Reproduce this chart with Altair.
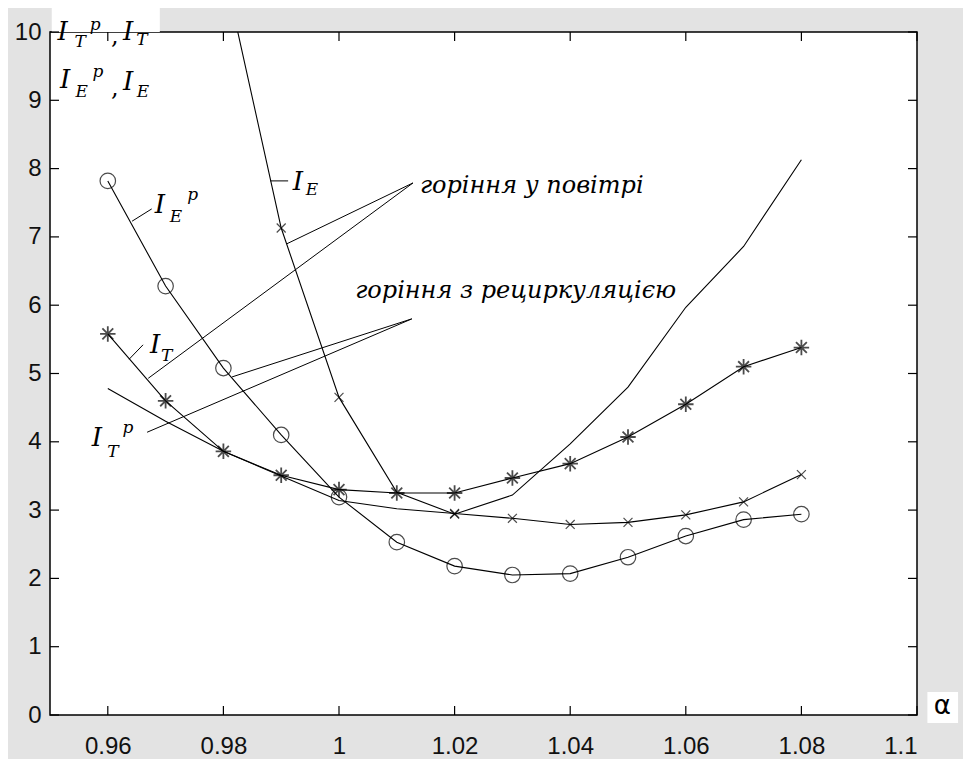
import altair as alt
import pandas as pd

# ---- data ----
alpha = [0.96, 0.97, 0.98, 0.99, 1.00, 1.01, 1.02, 1.03, 1.04, 1.05, 1.06, 1.07, 1.08]
ie_p = [7.82, 6.28, 5.08, 4.10, 3.19, 2.53, 2.18, 2.05, 2.07, 2.31, 2.62, 2.86, 2.94]
it = [5.58, 4.60, 3.86, 3.51, 3.30, 3.25, 3.25, 3.47, 3.68, 4.07, 4.55, 5.10, 5.38]
it_p = [4.78, 4.30, 3.86, 3.50, 3.14, 3.02, 2.95, 2.88, 2.79, 2.82, 2.93, 3.12, 3.52]
ie = [None, None, 10.95, 7.13, 4.65, 3.26, 2.94, 3.22, 3.97, 4.80, 5.97, 6.86, 8.13]

ie_marked = [0.99, 1.00, 1.02]
it_p_marked = [1.02, 1.03, 1.04, 1.05, 1.06, 1.07, 1.08]

x_ticks = [0.96, 0.98, 1.00, 1.02, 1.04, 1.06, 1.08, 1.10]
y_ticks = [0, 1, 2, 3, 4, 5, 6, 7, 8, 9, 10]

# annotation texts
note_air = "горіння у повітрі"
note_rec = "горіння з рециркуляцією"

W, H = 867, 683
TICK = 9

X = alt.X("x:Q", scale=alt.Scale(domain=[0.95, 1.1], nice=False, zero=False),
          axis=alt.Axis(values=x_ticks, format=".2~f"), title=None)
Y = alt.Y("y:Q", scale=alt.Scale(domain=[0, 10], nice=False, zero=False),
          axis=alt.Axis(values=y_ticks, format="d"), title=None)

rows = []
for name, vals in [("ie_p", ie_p), ("it", it), ("it_p", it_p), ("ie", ie)]:
    for a, v in zip(alpha, vals):
        if v is not None:
            rows.append({"x": a, "y": v, "s": name})
lines_df = pd.DataFrame(rows)

lines = alt.Chart(lines_df).mark_line(color="black", strokeWidth=1.1, clip=True).encode(
    x=X, y=Y, detail="s:N", order="x:Q")

circ_df = pd.DataFrame({"x": alpha, "y": ie_p})
star_df = pd.DataFrame({"x": alpha, "y": it})
xm_rows = [{"x": a, "y": v} for a, v in zip(alpha, it_p) if a in it_p_marked]
xm_rows += [{"x": a, "y": v} for a, v in zip(alpha, ie) if a in ie_marked and v is not None]
xm_df = pd.DataFrame(xm_rows)

circles = alt.Chart(circ_df).mark_point(shape="circle", filled=False, size=240,
                                        color="black", strokeWidth=1.2).encode(x=X, y=Y)
star_path = "M0,-1L0,1M-1,0L1,0M-0.7,-0.7L0.7,0.7M-0.7,0.7L0.7,-0.7"
stars = alt.Chart(star_df).mark_point(shape=star_path, filled=False, size=240,
                                      color="black", strokeWidth=1.8).encode(x=X, y=Y)
xmarks = alt.Chart(xm_df).mark_point(shape="M-1,-1L1,1M-1,1L1,-1", filled=False, size=80,
                                     color="black", strokeWidth=1.2).encode(x=X, y=Y)

# annotation pointer segments (data coordinates)
seg_df = pd.DataFrame({
    "x":  [1.0128, 1.0128, 1.0126, 1.0126, 0.9642, 0.9637, 0.9881],
    "y":  [7.79, 7.79, 5.80, 5.80, 7.23, 5.21, 7.82],
    "x2": [0.9910, 0.9670, 0.9815, 0.9668, 0.9676, 0.9661, 0.9912],
    "y2": [6.90, 4.93, 4.95, 4.14, 7.41, 5.42, 7.82],
})
segs = alt.Chart(seg_df).mark_rule(color="black", strokeWidth=1.0).encode(
    x=X, y=Y, x2="x2:Q", y2="y2:Q")

# white boxes behind outside labels
box_df = pd.DataFrame({"x": [0.9503, 1.1018], "x2": [0.9690, 1.1071],
                       "y": [10.0, -0.117], "y2": [10.38, 0.337]})
boxes = alt.Chart(box_df).mark_rect(color="white", clip=False).encode(
    x=X, y=Y, x2="x2:Q", y2="y2:Q")

# inner ticks
xt_df = pd.DataFrame({"x": x_ticks})
yt_df = pd.DataFrame({"y": y_ticks})
tb = alt.Chart(xt_df).mark_rule(color="black", strokeWidth=1.2).encode(
    x=X, y=alt.value(H), y2=alt.value(H - TICK))
tt = alt.Chart(xt_df).mark_rule(color="black", strokeWidth=1.2).encode(
    x=X, y=alt.value(0), y2=alt.value(TICK))
tl = alt.Chart(yt_df).mark_rule(color="black", strokeWidth=1.2).encode(
    y=Y, x=alt.value(0), x2=alt.value(TICK))
tr = alt.Chart(yt_df).mark_rule(color="black", strokeWidth=1.2).encode(
    y=Y, x=alt.value(W), x2=alt.value(W - TICK))

SERIF = "DejaVu Serif"

big_df = pd.DataFrame({
    "x": [0.9690, 0.9682, 0.9581, 0.9929, 0.9522, 0.9635, 0.9526, 0.9635],
    "y": [7.47, 5.42, 4.06, 7.80, 10.00, 10.00, 9.30, 9.27],
    "t": ["I"] * 8,
})
big = alt.Chart(big_df).mark_text(font=SERIF, fontStyle="italic", fontSize=26, color="black",
                                  align="center", baseline="middle", clip=False).encode(
    x=X, y=Y, text="t:N")

small_df = pd.DataFrame({
    "x": [0.9718, 0.9747, 0.9702, 0.9609, 0.9635, 0.9953,
          0.9552, 0.9578, 0.9659, 0.9555, 0.9583, 0.9661],
    "y": [7.29, 7.61, 5.26, 3.85, 4.20, 7.69,
          9.85, 10.10, 9.88, 9.12, 9.41, 9.12],
    "t": ["E", "p", "T", "T", "p", "E",
          "T", "p", "T", "E", "p", "E"],
})
small = alt.Chart(small_df).mark_text(font=SERIF, fontStyle="italic", fontSize=17, color="black",
                                      align="center", baseline="middle", clip=False).encode(
    x=X, y=Y, text="t:N")

comma_df = pd.DataFrame({"x": [0.9612, 0.9612], "y": [9.93, 9.17], "t": [",", ","]})
commas = alt.Chart(comma_df).mark_text(font=SERIF, fontSize=24, color="black",
                                       align="center", baseline="middle", clip=False).encode(
    x=X, y=Y, text="t:N")

note_df = pd.DataFrame({"x": [1.0140, 1.0028], "y": [7.64, 6.105], "t": [note_air, note_rec]})
notes = alt.Chart(note_df).mark_text(font=SERIF, fontStyle="italic", fontSize=24, color="black",
                                     align="left", baseline="alphabetic").encode(
    x=X, y=Y, text="t:N")

alpha_df = pd.DataFrame({"x": [1.1044], "y": [0.13], "t": ["α"]})
alpha_lbl = alt.Chart(alpha_df).mark_text(font="DejaVu Sans", fontSize=26, color="black",
                                          align="center", baseline="middle", clip=False).encode(
    x=X, y=Y, text="t:N")

chart = alt.layer(
    boxes, tb, tt, tl, tr, lines, segs, circles, stars, xmarks,
    big, small, commas, notes, alpha_lbl
).properties(
    width=W, height=H,
    autosize=alt.AutoSizeParams(type="none"),
    padding={"left": 42, "top": 24, "right": 46, "bottom": 44},
).configure(
    background="#e3e3e3",
).configure_view(
    fill="white", stroke="black", strokeWidth=1.5,
).configure_axis(
    grid=False, domain=False, ticks=False,
    labelFont="Liberation Sans",
    labelFontSize=24, labelColor="#111111",
).configure_axisX(
    labelPadding=19,
).configure_axisY(
    labelPadding=9,
)

chart.save("out.html", embed_options={"renderer": "svg", "actions": False})
